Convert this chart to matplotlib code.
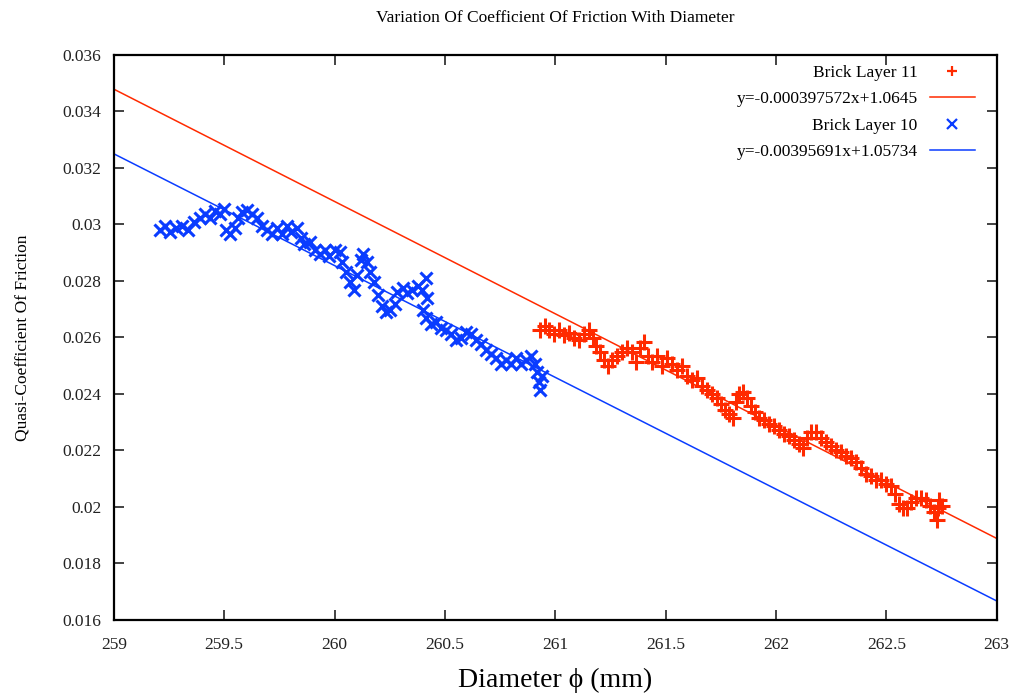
import matplotlib
matplotlib.use("Agg")
import matplotlib.pyplot as plt

plt.rcParams['font.family'] = ['Liberation Serif', 'DejaVu Serif']

# Brick Layer 10 (blue, x markers)
x10 = [259.208, 259.231, 259.253, 259.281, 259.308, 259.335, 259.362, 259.389, 259.412, 259.434,
       259.457, 259.480, 259.498, 259.507, 259.525, 259.548, 259.561, 259.579, 259.602, 259.624,
       259.647, 259.670, 259.692, 259.715, 259.738, 259.760, 259.783, 259.805, 259.828, 259.846,
       259.864, 259.887, 259.910, 259.932, 259.955, 259.977, 260.000, 260.023, 260.036, 260.054,
       260.072, 260.090, 260.104, 260.118, 260.131, 260.145, 260.163, 260.181, 260.195, 260.213,
       260.231, 260.253, 260.276, 260.285, 260.308, 260.330, 260.353, 260.376, 260.398, 260.416,
       260.421, 260.403, 260.416, 260.439, 260.462, 260.484, 260.507, 260.529, 260.552, 260.575,
       260.597, 260.620, 260.643, 260.665, 260.688, 260.710, 260.733, 260.756, 260.778, 260.801,
       260.824, 260.846, 260.869, 260.891, 260.910, 260.919, 260.928, 260.932, 260.941]
y10 = [0.02981, 0.02995, 0.02973, 0.02988, 0.02995, 0.02981, 0.03009, 0.03023, 0.03037, 0.03023,
       0.03048, 0.03037, 0.03055, 0.02981, 0.02966, 0.02988, 0.03023, 0.03044, 0.03051, 0.03037,
       0.03023, 0.02995, 0.02981, 0.02966, 0.02988, 0.02966, 0.02995, 0.02973, 0.02988, 0.02952,
       0.02931, 0.02938, 0.02910, 0.02896, 0.02910, 0.02888, 0.02910, 0.02903, 0.02867, 0.02832,
       0.02796, 0.02768, 0.02821, 0.02874, 0.02896, 0.02867, 0.02832, 0.02796, 0.02750, 0.02711,
       0.02690, 0.02697, 0.02719, 0.02761, 0.02775, 0.02757, 0.02768, 0.02782, 0.02768, 0.02811,
       0.02740, 0.02697, 0.02669, 0.02648, 0.02655, 0.02634, 0.02627, 0.02612, 0.02591, 0.02598,
       0.02619, 0.02612, 0.02591, 0.02577, 0.02556, 0.02542, 0.02527, 0.02506, 0.02520, 0.02506,
       0.02527, 0.02506, 0.02520, 0.02534, 0.02506, 0.02478, 0.02442, 0.02414, 0.02464]

# Brick Layer 11 (red, + markers)
x11 = [260.932, 260.955, 260.973, 260.995, 261.018, 261.041, 261.063, 261.086, 261.109, 261.131,
       261.154, 261.172, 261.186, 261.204, 261.222, 261.240, 261.258, 261.281, 261.303, 261.326,
       261.348, 261.367, 261.385, 261.403, 261.421, 261.439, 261.462, 261.484, 261.507, 261.529,
       261.552, 261.575, 261.597, 261.620, 261.643, 261.665, 261.688, 261.710, 261.733, 261.751,
       261.769, 261.787, 261.805, 261.819, 261.833, 261.851, 261.869, 261.887, 261.905, 261.923,
       261.946, 261.968, 261.991, 262.014, 262.036, 262.059, 262.081, 262.104, 262.122, 262.140,
       262.158, 262.181, 262.204, 262.226, 262.249, 262.271, 262.294, 262.317, 262.339, 262.362,
       262.385, 262.407, 262.430, 262.452, 262.475, 262.498, 262.520, 262.538, 262.557, 262.575,
       262.593, 262.611, 262.633, 262.656, 262.679, 262.697, 262.715, 262.729, 262.738, 262.751,
       262.733]
y11 = [0.02627, 0.02641, 0.02627, 0.02612, 0.02627, 0.02609, 0.02616, 0.02598, 0.02591, 0.02612,
       0.02627, 0.02598, 0.02570, 0.02549, 0.02520, 0.02499, 0.02520, 0.02534, 0.02549, 0.02563,
       0.02549, 0.02513, 0.02563, 0.02584, 0.02534, 0.02513, 0.02534, 0.02499, 0.02527, 0.02506,
       0.02485, 0.02499, 0.02464, 0.02450, 0.02457, 0.02428, 0.02414, 0.02400, 0.02386, 0.02365,
       0.02343, 0.02329, 0.02315, 0.02372, 0.02400, 0.02407, 0.02386, 0.02357, 0.02336, 0.02315,
       0.02308, 0.02294, 0.02287, 0.02273, 0.02258, 0.02251, 0.02237, 0.02223, 0.02209, 0.02244,
       0.02265, 0.02265, 0.02244, 0.02230, 0.02216, 0.02202, 0.02195, 0.02180, 0.02173, 0.02159,
       0.02138, 0.02117, 0.02110, 0.02095, 0.02095, 0.02081, 0.02074, 0.02046, 0.02011, 0.01996,
       0.01996, 0.02018, 0.02032, 0.02032, 0.02025, 0.02003, 0.01982, 0.01954, 0.02025, 0.02003,
       0.01996]

# linear fits (slope, intercept) and legend labels
fit11 = (-0.00397572, 1.0645)
fit10 = (-0.00395691, 1.05734)
fit_x = [259, 263]
label11 = 'y=-0.000397572x+1.0645'
label10 = 'y=-0.00395691x+1.05734'

red = '#ff2a00'
blue = '#0a3cff'

fig = plt.figure(figsize=(10.16, 6.95), dpi=100)
ax = fig.add_axes([0.112, 0.108, 0.869, 0.813])

ax.plot(x11, y11, linestyle='none', marker='+', ms=11, mew=2.2, color=red, label='Brick Layer 11')
ax.plot(fit_x, [fit11[0] * v + fit11[1] for v in fit_x], color=red, lw=1.1, label=label11)
ax.plot(x10, y10, linestyle='none', marker='x', ms=8.5, mew=2.2, color=blue, label='Brick Layer 10')
ax.plot(fit_x, [fit10[0] * v + fit10[1] for v in fit_x], color=blue, lw=1.1, label=label10)

ax.set_xlim(259, 263)
ax.set_ylim(0.016, 0.036)
ax.set_xticks([259, 259.5, 260, 260.5, 261, 261.5, 262, 262.5, 263])
ax.set_xticklabels(['259', '259.5', '260', '260.5', '261', '261.5', '262', '262.5', '263'])
yt = [0.016, 0.018, 0.02, 0.022, 0.024, 0.026, 0.028, 0.03, 0.032, 0.034, 0.036]
ax.set_yticks(yt)
ax.set_yticklabels(['0.016', '0.018', '0.02', '0.022', '0.024', '0.026', '0.028', '0.03',
                    '0.032', '0.034', '0.036'])
ax.tick_params(direction='in', top=True, right=True, length=7, width=1.2,
               labelsize=12.5, colors='#222222')
ax.tick_params(axis='x', pad=12)
ax.tick_params(axis='y', pad=9)
for s in ax.spines.values():
    s.set_linewidth(1.6)

ax.set_title('Variation Of Coefficient Of Friction With Diameter', fontsize=12.5, pad=24)
ax.set_xlabel('Diameter \u03d5 (mm)', fontsize=20, labelpad=11)
ax.set_ylabel('Quasi-Coefficient Of Friction', fontsize=12.5, labelpad=22)

leg = ax.legend(loc='upper right', bbox_to_anchor=(0.986, 1.0), frameon=False,
                markerfirst=False, fontsize=12.5, handlelength=2.6, labelspacing=0.6,
                borderaxespad=0.3, handletextpad=0.7, borderpad=0.25)
for h in leg.legend_handles:
    h.set_markersize(7)
    h.set_markeredgewidth(1.6)

fig.savefig('out.png', dpi=100)
